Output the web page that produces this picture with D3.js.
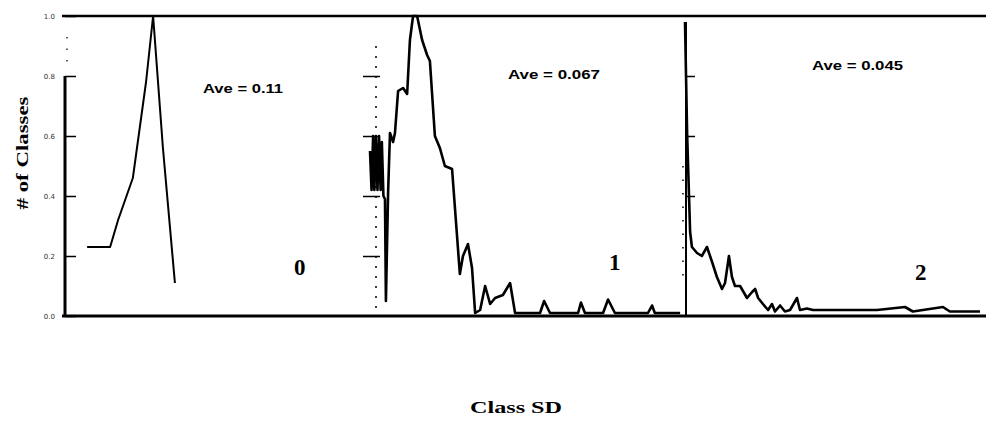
<!DOCTYPE html>
<html>
<head>
<meta charset="utf-8">
<script src="https://cdn.jsdelivr.net/npm/d3@7"></script>
<style>
  html, body { margin: 0; padding: 0; background: #fff; }
  svg { display: block; }
</style>
</head>
<body>
<div id="chart"></div>
<script>
// 三个分面：0、1、2，横轴为 Class SD（每个分面 0-100 的相对位置）
const panelNames = ["0", "1", "2"];
const aveLabels = ["Ave = 0.11", "Ave = 0.067", "Ave = 0.045"];
const yTickValues = [0, 0.2, 0.4, 0.6, 0.8, 1.0];
const yTickLabels = ["0.0", "0.2", "0.4", "0.6", "0.8", "1.0"];

// 分面 0
const sd0 = [7.2, 14.7, 17.3, 22.1, 26.4, 28.7, 31.9, 35.8];
const val0 = [0.23, 0.23, 0.32, 0.46, 0.78, 1.0, 0.56, 0.11];

// 分面 1
const sd1 = [0, 0.5, 1.0, 1.4, 1.9, 2.4, 2.9, 3.4, 3.8, 4.3, 4.8, 5.1, 5.8, 6.4, 7.4, 8.0, 9.0,
  10.6, 11.9, 12.8, 13.8, 15.1, 16.7, 18.3, 19.2, 20.8, 22.4, 24.0, 26.3, 28.8, 29.8, 31.4,
  32.7, 33.7, 35.3, 36.9, 38.5, 40.1, 42.6, 44.9, 46.5, 54.5, 55.8, 57.7, 66.7, 67.6, 68.9,
  74.7, 76.3, 78.5, 89.1, 90.4, 91.3, 99.4];
const val1 = [0.55, 0.42, 0.6, 0.42, 0.6, 0.42, 0.6, 0.42, 0.58, 0.4, 0.39, 0.05, 0.41, 0.61,
  0.58, 0.61, 0.75, 0.76, 0.74, 0.92, 1.0, 1.0, 0.92, 0.87, 0.85, 0.6, 0.56, 0.5, 0.49, 0.14,
  0.2, 0.24, 0.16, 0.01, 0.02, 0.1, 0.04, 0.06, 0.07, 0.11, 0.01, 0.01, 0.05, 0.01, 0.01, 0.045,
  0.01, 0.01, 0.055, 0.01, 0.01, 0.035, 0.01, 0.01];

// 分面 2
const sd2 = [0, 0.7, 1.7, 2.3, 4.0, 5.6, 7.3, 9.0, 10.6, 12.3, 13.3, 14.6, 15.6, 16.6, 18.3,
  20.6, 22.3, 23.3, 24.3, 25.9, 27.6, 28.9, 29.9, 31.6, 33.2, 34.9, 37.2, 38.2, 40.5, 42.5,
  53.8, 63.8, 73.1, 75.7, 85.7, 88.0, 98.0];
const val2 = [0.98, 0.61, 0.28, 0.23, 0.21, 0.2, 0.23, 0.18, 0.13, 0.09, 0.11, 0.2, 0.13, 0.1,
  0.1, 0.06, 0.08, 0.09, 0.06, 0.04, 0.02, 0.04, 0.015, 0.035, 0.015, 0.02, 0.06, 0.02, 0.025,
  0.02, 0.02, 0.02, 0.03, 0.015, 0.03, 0.015, 0.015];

const width = 986;
const height = 421;

const svg = d3.select("#chart").append("svg")
  .attr("width", width)
  .attr("height", height);

const y = d3.scaleLinear().domain([0, 1]).range([316, 16]);

// 每个分面的横向像素范围
const panels = [
  { x: d3.scaleLinear().domain([0, 100]).range([65, 372]), sd: sd0, val: val0 },
  { x: d3.scaleLinear().domain([0, 100]).range([370, 682]), sd: sd1, val: val1 },
  { x: d3.scaleLinear().domain([0, 100]).range([685, 986]), sd: sd2, val: val2 }
];

// 上下边框
[1, 0].forEach(v => {
  svg.append("line")
    .attr("x1", 62).attr("x2", width)
    .attr("y1", y(v)).attr("y2", y(v))
    .attr("stroke", "#000")
    .attr("stroke-width", v === 0 ? 3 : 2.5);
});

// 分面 0 的纵轴（带刻度标签）
const axis0 = svg.append("g")
  .attr("transform", "translate(65,0)")
  .call(d3.axisLeft(y)
    .tickValues(yTickValues)
    .tickSizeInner(-11)
    .tickSizeOuter(0)
    .tickPadding(10)
    .tickFormat((d, i) => yTickLabels[i]));
axis0.select(".domain")
  .attr("d", `M0,${y(0.8)}V${y(0)}`)
  .attr("stroke", "#000")
  .attr("stroke-width", 3);
axis0.selectAll(".tick line").attr("stroke", "#000").attr("stroke-width", 1.5);
axis0.selectAll(".tick text")
  .attr("fill", "#333")
  .style("font-family", "'DejaVu Sans', sans-serif")
  .style("font-size", "7px");
svg.append("line")
  .attr("x1", 67).attr("x2", 67)
  .attr("y1", y(0.93)).attr("y2", y(0.82))
  .attr("stroke", "#000").attr("stroke-width", 1.2)
  .attr("stroke-dasharray", "1.5,10");

// 分面 1 的纵轴（虚线，刻度朝外）
const axis1 = svg.append("g")
  .attr("transform", "translate(376,0)")
  .call(d3.axisLeft(y)
    .tickValues([0.2, 0.4, 0.6, 0.8])
    .tickSizeInner(13)
    .tickSizeOuter(0)
    .tickFormat(""));
axis1.select(".domain")
  .attr("d", `M0,${y(0.9)}V${y(0.01)}`)
  .attr("stroke", "#000").attr("stroke-width", 1.5)
  .attr("stroke-dasharray", "2,8");
axis1.selectAll(".tick line")
  .attr("x2", -13).attr("x1", 4)
  .attr("stroke", "#000").attr("stroke-width", 1.5);

// 分面 2 的纵轴（刻度朝内）
const axis2 = svg.append("g")
  .attr("transform", "translate(686,0)")
  .call(d3.axisLeft(y)
    .tickValues([0.4, 0.6, 0.8])
    .tickSizeInner(-9)
    .tickSizeOuter(0)
    .tickFormat(""));
axis2.select(".domain")
  .attr("d", `M0,${y(0.98)}V${y(0)}`)
  .attr("stroke", "#000").attr("stroke-width", 2);
axis2.selectAll(".tick line").attr("stroke", "#000").attr("stroke-width", 1.5);
svg.append("line")
  .attr("x1", 683).attr("x2", 683)
  .attr("y1", y(0.5)).attr("y2", y(0.1))
  .attr("stroke", "#000").attr("stroke-width", 1.5)
  .attr("stroke-dasharray", "1.5,12");

// 折线
const line = d3.line();
panels.forEach((p, i) => {
  svg.append("path")
    .attr("d", line(p.sd.map((s, k) => [p.x(s), y(p.val[k])])))
    .attr("fill", "none")
    .attr("stroke", "#000")
    .attr("stroke-width", i === 0 ? 2 : 2.6)
    .attr("stroke-linejoin", "round");
});

// Ave 标注
const avePos = [[0.745, 203, 80], [0.79, 508, 92], [0.82, 812, 91]];
aveLabels.forEach((t, i) => {
  svg.append("text")
    .attr("x", avePos[i][1])
    .attr("y", y(avePos[i][0]))
    .attr("textLength", avePos[i][2])
    .attr("lengthAdjust", "spacingAndGlyphs")
    .style("font-family", "'Liberation Sans', Arial, sans-serif")
    .style("font-weight", "bold")
    .style("font-size", "12px")
    .text(t);
});

// 分面编号
const namePos = [[294, 0.137], [609, 0.153], [915, 0.12]];
panelNames.forEach((n, i) => {
  svg.append("text")
    .attr("x", namePos[i][0])
    .attr("y", y(namePos[i][1]))
    .style("font-family", "'Liberation Serif', 'Times New Roman', serif")
    .style("font-weight", "bold")
    .style("font-size", "23px")
    .text(n);
});

// 坐标轴标题
svg.append("text")
  .attr("transform", "translate(28,153) rotate(-90)")
  .attr("text-anchor", "middle")
  .attr("textLength", 113)
  .attr("lengthAdjust", "spacingAndGlyphs")
  .style("font-family", "'Liberation Serif', 'Times New Roman', serif")
  .style("font-weight", "bold")
  .style("font-size", "17px")
  .text("# of Classes");

svg.append("text")
  .attr("x", 516)
  .attr("y", 413)
  .attr("text-anchor", "middle")
  .attr("textLength", 92)
  .attr("lengthAdjust", "spacingAndGlyphs")
  .style("font-family", "'Liberation Serif', 'Times New Roman', serif")
  .style("font-weight", "bold")
  .style("font-size", "17px")
  .text("Class SD");
</script>
</body>
</html>
